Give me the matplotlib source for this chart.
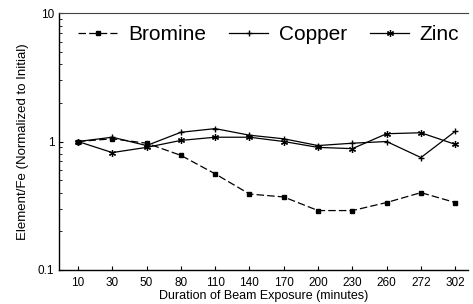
import matplotlib.pyplot as plt
import numpy as np

plt.rcParams['font.family'] = ['Liberation Sans', 'DejaVu Sans']

durations = ['10', '30', '50', '80', '110', '140', '170', '200', '230', '260', '272', '302']
bromine = [1.0, 1.05, 0.97, 0.78, 0.56, 0.39, 0.37, 0.29, 0.29, 0.335, 0.40, 0.335]
copper = [1.0, 1.08, 0.93, 1.18, 1.26, 1.12, 1.05, 0.93, 0.97, 1.0, 0.75, 1.2]
zinc = [1.0, 0.82, 0.9, 1.02, 1.08, 1.08, 1.0, 0.9, 0.88, 1.15, 1.17, 0.95]

x = np.arange(len(durations))

fig = plt.figure(figsize=(4.73, 3.04), dpi=100)
ax = fig.add_axes([0.125, 0.112, 0.865, 0.845])

ax.plot(x, bromine, color='black', lw=0.9, linestyle=(0, (6, 2.5)),
        marker='s', ms=3.5, label='Bromine')
ax.plot(x, copper, color='black', lw=0.9, marker='+', ms=5, mew=1,
        label='Copper')
ax.plot(x, zinc, color='black', lw=0.9, marker=(6, 2, 0), ms=5, mew=0.9,
        label='Zinc')

ax.set_yscale('log')
ax.set_ylim(0.1, 10)
ax.set_xlim(-0.55, 11.38)
ax.set_xticks(x)
ax.set_xticklabels(durations)
ax.set_yticks([0.1, 1, 10])
ax.set_yticklabels(['0.1', '1', '10'])
ax.tick_params(axis='both', direction='in', labelsize=8.5, length=3, width=0.8)
ax.tick_params(axis='y', which='minor', direction='in', length=2)
ax.tick_params(axis='x', pad=5)

ax.spines['right'].set_visible(False)
ax.spines['top'].set_linewidth(0.8)
ax.spines['top'].set_color('#444444')
ax.spines['left'].set_linewidth(1.0)
ax.spines['bottom'].set_linewidth(1.0)

ax.set_xlabel('Duration of Beam Exposure (minutes)', fontsize=9, labelpad=1)
ax.set_ylabel('Element/Fe (Normalized to Initial)', fontsize=9.5, labelpad=6)

ax.legend(loc='upper left', bbox_to_anchor=(0.0, 1.025), ncol=3, frameon=False,
          fontsize=15, handlelength=1.9, handletextpad=0.5, columnspacing=1.1)

fig.savefig('out.png', dpi=100)
